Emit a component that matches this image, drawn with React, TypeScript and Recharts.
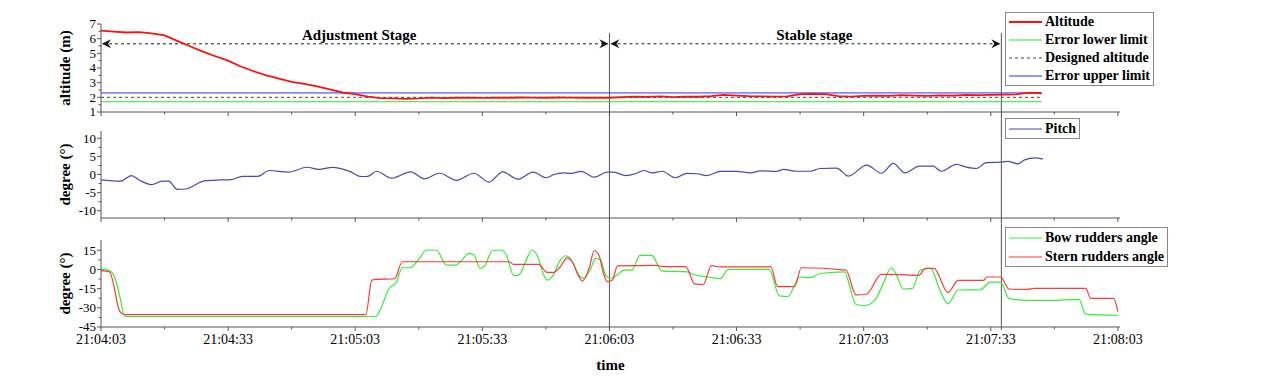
import { Line, LineChart, ReferenceLine, XAxis, YAxis } from 'recharts'

// time axis: seconds after 21:04:03
const TIME_LABELS = ['21:04:03', '21:04:33', '21:05:03', '21:05:33', '21:06:03', '21:06:33', '21:07:03', '21:07:33', '21:08:03']
const X_TICKS = [0, 15, 30, 45, 60, 75, 90, 105, 120, 135, 150, 165, 180, 195, 210, 225, 240]

const ALT_TICKS = [1, 1.5, 2, 2.5, 3, 3.5, 4, 4.5, 5, 5.5, 6, 6.5, 7]
const PITCH_TICKS = [-10, -7.5, -5, -2.5, 0, 2.5, 5, 7.5, 10]
const RUDDER_TICKS = [-45, -37.5, -30, -22.5, -15, -7.5, 0, 7.5, 15]

// altitude (m)
const ALT_T = [
  0, 3, 6, 9, 12, 15, 18, 21, 24, 27, 30, 33, 36, 39, 42, 45, 48, 51, 54, 57, 60, 63, 66, 69, 72,
  75, 78, 81, 84, 87, 90, 93, 96, 99, 102, 105, 108, 111, 114, 117, 120, 123, 126, 129, 132, 135,
  138, 141, 144, 147, 150, 153, 156, 159, 162, 165, 168, 171, 174, 177, 180, 183, 186, 189, 192,
  195, 198, 201, 204, 207, 210, 213, 216, 219, 222,
]
const ALTITUDE = [
  6.55, 6.48, 6.42, 6.45, 6.36, 6.22, 5.85, 5.48, 5.12, 4.8, 4.5, 4.1, 3.78, 3.5, 3.28, 3.06, 2.92,
  2.75, 2.55, 2.33, 2.22, 2.05, 1.95, 1.93, 1.9, 1.93, 1.98, 1.95, 1.97, 1.98, 1.96, 1.98, 1.97,
  1.99, 1.98, 1.97, 1.99, 1.98, 1.97, 1.98, 1.97, 2.02, 2.05, 2.03, 2.07, 2.02, 2.05, 2.04, 2.08,
  2.17, 2.12, 2.08, 2.06, 2.05, 2.07, 2.22, 2.24, 2.22, 2.08, 2.05, 2.1, 2.12, 2.1, 2.15, 2.12, 2.1,
  2.14, 2.12, 2.16, 2.15, 2.17, 2.18, 2.2, 2.32, 2.28,
]
const DESIGNED_ALTITUDE = 2
const ERROR_LOWER = 1.7
const ERROR_UPPER = 2.3

// pitch (deg)
const PITCH_T = [
  0, 4.5, 7.2, 9, 11.9, 14.4, 16, 18, 19.9, 24.4, 28, 30.7, 33.4, 37, 39.7, 44.2, 48.7, 51.4, 54.6,
  58.7, 61.4, 63, 65, 68.6, 73.1, 76.3, 79.9, 83.9, 88, 91.6, 94.8, 98.4, 102, 105.1, 106.9, 109.2,
  111, 113.3, 116.4, 119.5, 121, 123.8, 126.1, 128.1, 130.1, 132.4, 135.6, 138.3, 140.7, 143, 146.2,
  150.1, 153.3, 155.6, 159.5, 161.1, 164.2, 167.4, 169.7, 173.6, 176.4, 180.7, 184.2, 187, 189.7,
  193.2, 196.4, 198.3, 201.9, 204.2, 206.6, 208.9, 212.1, 214.1, 216.4, 218, 220.4, 222.3,
]
const PITCH = [
  -1.5, -1.85, -0.3, -1.5, -2.8, -1.85, -1.85, -4.1, -4.0, -1.75, -1.5, -1.4, -0.5, -0.5, 1.1, 0.65,
  2.0, 1.4, 1.95, 0.85, -0.55, -0.5, 0.9, -1.0, 0.75, -1.2, 0.35, -1.6, 0.35, -2.1, 0.75, -1.3, 0.65,
  -0.9, 0, 0.45, 0.3, 0.85, -0.75, 0.65, 0.65, -0.3, 0.2, 1.1, 0.45, 0.9, -0.9, 0.3, 0.2, -0.3, 0.85,
  0.85, 0.45, 1.0, 0.85, 1.4, 0.9, 0.9, 1.65, 1.75, -0.45, 2.6, 0.35, 3.05, 0.45, 2.3, 2.3, 0.9, 2.8,
  2.05, 1.65, 3.25, 3.4, 3.6, 2.95, 4.05, 4.6, 4.25,
]

// bow rudders angle (deg)
const BOW_T = [
  0, 1.8, 3.2, 4.5, 5.6, 64.8, 66.1, 67.9, 69.7, 71.1, 72.9, 75.2, 76.8, 79.3, 80.5, 81.5, 83.7,
  85.2, 86.8, 88, 89.5, 90.7, 92.3, 94.3, 95.5, 97.4, 98.6, 100.2, 101.7, 102.9, 104.5, 105.3, 106.5,
  108.4, 109.6, 110.8, 112.8, 114, 115.6, 116.7, 117.9, 119.1, 120.2, 121.8, 123.4, 125.3, 127.2,
  130, 132.4, 138.5, 139.7, 143.3, 146.1, 148.1, 157.7, 160.1, 162.1, 164.9, 167.4, 169.8, 175.4,
  178.2, 180.2, 182.6, 184.6, 186.5, 187.4, 189.4, 191.5, 193.4, 195.8, 197.9, 199.9, 202.3, 207.5,
  209.9, 212.3, 214.3, 218.3, 224.3, 230.8, 232.4, 240,
]
const BOW = [
  0, -0.5, -6, -22, -36.8, -36.8, -30, -15.3, -10, 1.3, 1.3, 8.9, 15.2, 15, 8, 3.4, 3.4, 7.3, 12.6,
  11.3, 0.8, 3.4, 14.6, 15.2, 12.6, -4.9, -4.4, 5.9, 15.2, 11.3, -4.4, -8.3, -5.7, 7.3, 10.7, 8.6,
  -4.4, -7, 0.8, 8.6, 7.3, -4.4, -7, -4.4, -0.5, -0.5, 11, 11, -1.3, -1.9, -3.8, -5.9, -7.3, 0, 0,
  -20.7, -21.3, -5.9, -6.5, -3.2, -1.9, -27.4, -28.2, -24.2, -11.3, 1.3, -1.9, -15.3, -14.8, -0.5,
  0.8, -15.3, -26.9, -16.1, -15.9, -10, -10, -22.6, -24.2, -24.2, -23.4, -35, -36,
]

// stern rudders angle (deg)
const STERN_T = [
  0, 2, 4.5, 5.5, 62.5, 63.9, 64.8, 69.3, 71.1, 96.3, 97.4, 103.3, 105.3, 106.9, 108.4, 110, 111.2,
  112.8, 113.6, 115.2, 116.4, 117.5, 118.7, 119.5, 120.7, 121.9, 131.2, 132.4, 138, 140.1, 142.1,
  144.1, 146.1, 158.1, 159.7, 163.7, 165.3, 175.8, 178.2, 180.6, 184.2, 186.6, 193, 194.6, 196.6,
  199.9, 202.3, 208.3, 209.1, 212.3, 214.3, 218.7, 220.3, 232.4, 233.6, 239, 240,
]
const STERN = [
  -1, -1.9, -33, -35.3, -35.3, -8.6, -7.8, -7.3, 6, 6, 3.9, 3.9, -2.3, -2.3, 2.1, 9.1, 6, -5.7, -9.1,
  0.8, 14.6, 11.3, -4.4, -9.6, -8.3, 2.8, 3.2, 2.2, 2.2, -11.3, -11.8, 3, 2, 2, -13.5, -13.5, 1.3,
  -0.5, -19.9, -19.4, -3.8, -3.8, -4.6, 0.8, 0.8, -18, -8.6, -8.6, -5.9, -5.9, -15.3, -15.6, -14.8,
  -14.8, -22.6, -22.6, -33,
]

const STAGE_MARKS = [120, 212.5]
const STAGES = [
  { label: 'Adjustment Stage', from: 0, to: 120 },
  { label: 'Stable stage', from: 120, to: 212.5 },
]
const STAGE_LEVEL = 5.65
const STAGE_LABEL_DX = [4, 9]

const ALT_SERIES = [
  { key: 'altitude', name: 'Altitude', color: '#ff1010', width: 1.8 },
  { key: 'lower', name: 'Error lower limit', color: '#22ee22', width: 1 },
  { key: 'designed', name: 'Designed altitude', color: '#444', width: 1, dash: '3 3' },
  { key: 'upper', name: 'Error upper limit', color: '#3030ff', width: 1 },
]
const PITCH_SERIES = [{ key: 'v', name: 'Pitch', color: '#4848b8', width: 1.2 }]
const RUDDER_SERIES = [
  { key: 'v', name: 'Bow rudders angle', color: '#33ee33', width: 1.2 },
  { key: 'v', name: 'Stern rudders angle', color: '#ff3838', width: 1.2 },
]

const altData = ALT_T.map((t, i) => ({
  t,
  altitude: ALTITUDE[i],
  lower: ERROR_LOWER,
  upper: ERROR_UPPER,
  designed: DESIGNED_ALTITUDE,
}))
const pitchData = PITCH_T.map((t, i) => ({ t, v: PITCH[i] }))
const bowData = BOW_T.map((t, i) => ({ t, v: BOW[i] }))
const sternData = STERN_T.map((t, i) => ({ t, v: STERN[i] }))

const AXIS = '#555'
const FONT = '"Liberation Serif", "Times New Roman", serif'
const X_DOMAIN = [0, 240.5]
const MARGIN = { top: 0, right: 150, bottom: 0, left: 0 }
const TXT = { fontFamily: FONT }

const makeXTick = (showLabel: boolean) => (props: any) => {
  const { x, y, payload } = props
  const v = payload.value
  const major = v % 30 === 0
  return (
    <g>
      <line x1={x} y1={y} x2={x} y2={y + (major ? 4 : 2.5)} stroke={AXIS} />
      {showLabel && major && (
        <text x={x} y={y + 17} textAnchor="middle" fontSize={14} style={TXT} fill="#000">
          {TIME_LABELS[v / 30]}
        </text>
      )}
    </g>
  )
}

const makeYTick = (step: number) => (props: any) => {
  const { x, y, payload } = props
  const v = payload.value
  const major = Math.abs(v / step - Math.round(v / step)) < 1e-6
  return (
    <g>
      <line x1={x - (major ? 4 : 2.5)} y1={y} x2={x} y2={y} stroke={AXIS} />
      {major && (
        <text x={x - 5} y={y} dy="0.33em" textAnchor="end" fontSize={13} style={TXT} fill="#000">
          {v}
        </text>
      )}
    </g>
  )
}

const yTitle = (text: string) => (p: any) => {
  const vb = p.viewBox
  const cx = 65
  const cy = vb.y + vb.height / 2
  return (
    <text
      x={cx}
      y={cy}
      transform={`rotate(-90 ${cx} ${cy})`}
      textAnchor="middle"
      dy="0.35em"
      fontSize={15}
      fontWeight="bold"
      style={TXT}
      fill="#000"
    >
      {text}
    </text>
  )
}

const xTitle = (p: any) => {
  const vb = p.viewBox
  return (
    <text
      x={vb.x + vb.width / 2}
      y={vb.y + 43}
      textAnchor="middle"
      fontSize={15}
      fontWeight="bold"
      style={TXT}
      fill="#000"
    >
      time
    </text>
  )
}

const arrowHead = (tip: number, y: number, dir: number) => {
  const pts = [
    [tip, y],
    [tip - 9 * dir, y - 4.5],
    [tip - 6 * dir, y],
    [tip - 9 * dir, y + 4.5],
  ]
  return <polygon points={pts.map((p) => p.join(',')).join(' ')} fill="#111" />
}

const stageShape = (label: string, dx: number) => (props: any) => {
  const { x1, y1, x2 } = props
  return (
    <g>
      <line x1={x1 + 2} y1={y1} x2={x2 - 2} y2={y1} stroke="#222" strokeDasharray="3 3" />
      {arrowHead(x1 + 1, y1, -1)}
      {arrowHead(x2 - 1, y1, 1)}
      <text
        x={(x1 + x2) / 2 + dx}
        y={y1 - 4}
        textAnchor="middle"
        fontSize={15}
        fontWeight="bold"
        style={TXT}
        fill="#000"
      >
        {label}
      </text>
    </g>
  )
}

const stageMarks = (top: number, bottom: number) =>
  STAGE_MARKS.map((t) => (
    <ReferenceLine
      key={t}
      segment={[
        { x: t, y: top },
        { x: t, y: bottom },
      ]}
      stroke="#555"
      strokeWidth={1}
      ifOverflow="visible"
    />
  ))

type LegendItem = { name: string; color: string; width: number; dash?: string }

function LegendBox({ items, left, top, rowHeight }: { items: LegendItem[]; left: number; top: number; rowHeight: number }) {
  return (
    <div
      style={{
        position: 'absolute',
        left,
        top,
        border: '1px solid #888',
        background: '#fff',
        padding: '0 3px 0 2px',
        fontFamily: FONT,
        fontWeight: 'bold',
        fontSize: 14,
        lineHeight: `${rowHeight}px`,
        whiteSpace: 'nowrap',
      }}
    >
      {items.map((item) => (
        <div key={item.name} style={{ display: 'flex', alignItems: 'center' }}>
          <svg width={37} height={10} style={{ display: 'block' }}>
            <line
              x1={1}
              y1={5}
              x2={34}
              y2={5}
              stroke={item.color}
              strokeWidth={item.width}
              strokeDasharray={item.dash}
            />
          </svg>
          <span>{item.name}</span>
        </div>
      ))}
    </div>
  )
}

export default function App() {
  return (
    <div style={{ position: 'absolute', left: 0, top: 0, width: 1270, height: 380, background: '#fff', fontFamily: FONT }}>
      <style>{'.recharts-surface{overflow:visible}'}</style>
      <div style={{ position: 'absolute', left: 0, top: 0 }}>
        <LineChart width={1270} height={118} data={altData} margin={{ ...MARGIN, top: 24 }}>
          <XAxis
            dataKey="t"
            type="number"
            domain={X_DOMAIN}
            ticks={X_TICKS}
            interval={0}
            allowDataOverflow
            height={6}
            tickSize={0}
            tickMargin={0}
            tickLine={false}
            stroke={AXIS}
            tick={makeXTick(false)}
          />
          <YAxis
            type="number"
            domain={[1, 7]}
            ticks={ALT_TICKS}
            interval={0}
            allowDataOverflow
            width={101}
            tickSize={0}
            tickMargin={0}
            tickLine={false}
            stroke={AXIS}
            tick={makeYTick(1)}
            label={{ content: yTitle('altitude (m)') }}
          />
          {stageMarks(6.4, 0.6)}
          {STAGES.map((s, i) => (
            <ReferenceLine
              key={s.label}
              segment={[
                { x: s.from, y: STAGE_LEVEL },
                { x: s.to, y: STAGE_LEVEL },
              ]}
              ifOverflow="visible"
              shape={stageShape(s.label, STAGE_LABEL_DX[i])}
            />
          ))}
          {ALT_SERIES.slice(1).map((s) => (
            <Line
              key={s.key}
              dataKey={s.key}
              name={s.name}
              type="linear"
              stroke={s.color}
              strokeWidth={s.width}
              strokeDasharray={s.dash}
              dot={false}
              activeDot={false}
              isAnimationActive={false}
            />
          ))}
          <Line
            dataKey="altitude"
            name="Altitude"
            type="linear"
            stroke={ALT_SERIES[0].color}
            strokeWidth={ALT_SERIES[0].width}
            dot={false}
            activeDot={false}
            isAnimationActive={false}
          />
        </LineChart>
      </div>

      <div style={{ position: 'absolute', left: 0, top: 118 }}>
        <LineChart width={1270} height={106} margin={{ ...MARGIN, top: 13 }}>
          <XAxis
            dataKey="t"
            type="number"
            domain={X_DOMAIN}
            ticks={X_TICKS}
            interval={0}
            allowDataOverflow
            height={6}
            tickSize={0}
            tickMargin={0}
            tickLine={false}
            stroke={AXIS}
            tick={makeXTick(false)}
          />
          <YAxis
            type="number"
            domain={[-12, 12]}
            ticks={PITCH_TICKS}
            interval={0}
            allowDataOverflow
            width={101}
            tickSize={0}
            tickMargin={0}
            tickLine={false}
            stroke={AXIS}
            tick={makeYTick(5)}
            label={{ content: yTitle('degree (°)') }}
          />
          {stageMarks(15.6, -13.6)}
          <Line
            data={pitchData}
            dataKey="v"
            name="Pitch"
            type="monotone"
            stroke={PITCH_SERIES[0].color}
            strokeWidth={PITCH_SERIES[0].width}
            dot={false}
            activeDot={false}
            isAnimationActive={false}
          />
        </LineChart>
      </div>

      <div style={{ position: 'absolute', left: 0, top: 224 }}>
        <LineChart width={1270} height={156} margin={{ ...MARGIN, top: 16 }}>
          <XAxis
            dataKey="t"
            type="number"
            domain={X_DOMAIN}
            ticks={X_TICKS}
            interval={0}
            allowDataOverflow
            height={53}
            tickSize={0}
            tickMargin={0}
            tickLine={false}
            stroke={AXIS}
            tick={makeXTick(true)}
            label={{ content: xTitle }}
          />
          <YAxis
            type="number"
            domain={[-45, 23]}
            ticks={RUDDER_TICKS}
            interval={0}
            allowDataOverflow
            width={101}
            tickSize={0}
            tickMargin={0}
            tickLine={false}
            stroke={AXIS}
            tick={makeYTick(15)}
            label={{ content: yTitle('degree (°)') }}
          />
          {stageMarks(35.5, -47.3)}
          <Line
            data={bowData}
            dataKey="v"
            name="Bow rudders angle"
            type="monotone"
            stroke={RUDDER_SERIES[0].color}
            strokeWidth={RUDDER_SERIES[0].width}
            dot={false}
            activeDot={false}
            isAnimationActive={false}
          />
          <Line
            data={sternData}
            dataKey="v"
            name="Stern rudders angle"
            type="monotone"
            stroke={RUDDER_SERIES[1].color}
            strokeWidth={RUDDER_SERIES[1].width}
            dot={false}
            activeDot={false}
            isAnimationActive={false}
          />
        </LineChart>
      </div>

      <LegendBox items={ALT_SERIES} left={1005} top={12} rowHeight={18} />
      <LegendBox items={PITCH_SERIES} left={1005} top={118} rowHeight={19} />
      <LegendBox items={RUDDER_SERIES} left={1005} top={227} rowHeight={19} />
    </div>
  )
}
